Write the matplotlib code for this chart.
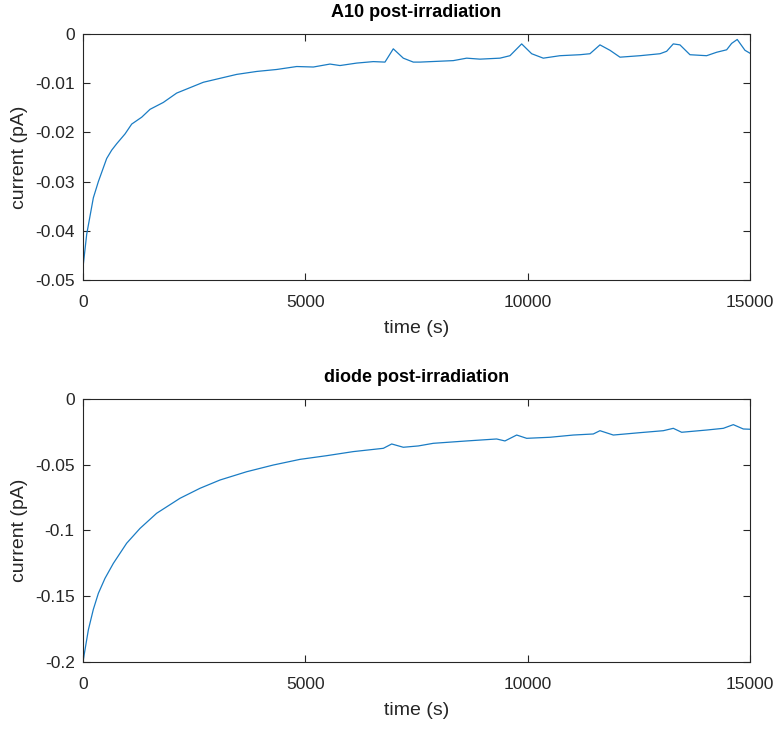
import matplotlib
matplotlib.use("Agg")
import matplotlib.pyplot as plt

# A10 post-irradiation
t_a10 = [0, 83, 232, 345, 532, 645, 757, 945, 1095, 1320, 1507, 1806, 2106, 2406,
         2706, 3081, 3456, 3906, 4356, 4806, 5180, 5554, 5779, 6155, 6529, 6791,
         6978, 7203, 7428, 7578, 8327, 8628, 8927, 9377, 9602, 9865, 10090, 10351,
         10726, 11176, 11401, 11626, 11851, 12076, 12526, 12976, 13126, 13275,
         13425, 13650, 14025, 14250, 14475, 14587, 14713, 14887, 15000]
i_a10 = [-0.0474, -0.0407, -0.0333, -0.0300, -0.0253, -0.0236, -0.0223, -0.0203,
         -0.0183, -0.0169, -0.0153, -0.0139, -0.0120, -0.0109, -0.0098, -0.0090,
         -0.0082, -0.0076, -0.0072, -0.0066, -0.0067, -0.0061, -0.0064, -0.0059,
         -0.0056, -0.0057, -0.0030, -0.0049, -0.0057, -0.0057, -0.0054, -0.0049,
         -0.0051, -0.0049, -0.0044, -0.0020, -0.0040, -0.0049, -0.0044, -0.0042,
         -0.0040, -0.0022, -0.0033, -0.0047, -0.0044, -0.0040, -0.0035, -0.0020,
         -0.0022, -0.0042, -0.0044, -0.0037, -0.0032, -0.0019, -0.0011, -0.0033,
         -0.0039]

# diode post-irradiation
t_diode = [0, 120, 232, 345, 494, 682, 981, 1282, 1656, 2181, 2631, 3081, 3681,
           4280, 4880, 5480, 6079, 6754, 6942, 7203, 7540, 7877, 8628, 9302, 9489,
           9753, 9978, 10502, 11026, 11476, 11626, 11926, 12526, 13051, 13275,
           13463, 14025, 14400, 14625, 14850, 15000]
i_diode = [-0.1997, -0.1756, -0.1600, -0.1478, -0.1364, -0.1250, -0.1097, -0.0984,
           -0.0869, -0.0755, -0.0679, -0.0616, -0.0553, -0.0502, -0.0459, -0.0431,
           -0.0400, -0.0375, -0.0342, -0.0367, -0.0357, -0.0337, -0.0319, -0.0304,
           -0.0319, -0.0274, -0.0299, -0.0291, -0.0274, -0.0266, -0.0241, -0.0274,
           -0.0256, -0.0241, -0.0223, -0.0253, -0.0236, -0.0223, -0.0195, -0.0228,
           -0.0230]

plt.rcParams['font.family'] = ['Liberation Sans', 'DejaVu Sans']
txt = '#262626'
line_col = '#1a7cc4'

fig = plt.figure(figsize=(7.78, 7.34), dpi=100)
ax1 = fig.add_axes([0.1067, 0.6185, 0.8573, 0.3351])
ax2 = fig.add_axes([0.1067, 0.0981, 0.8573, 0.3583])

panels = [
    (ax1, t_a10, i_a10, 'A10 post-irradiation', (-0.05, 0), [-0.05, -0.04, -0.03, -0.02, -0.01, 0],
     ['-0.05', '-0.04', '-0.03', '-0.02', '-0.01', '0']),
    (ax2, t_diode, i_diode, 'diode post-irradiation', (-0.2, 0), [-0.2, -0.15, -0.1, -0.05, 0],
     ['-0.2', '-0.15', '-0.1', '-0.05', '0']),
]

for ax, t, y, title, ylim, yt, ytl in panels:
    ax.plot(t, y, color=line_col, linewidth=0.9)
    ax.set_xlim(0, 15000)
    ax.set_ylim(*ylim)
    ax.set_xticks([0, 5000, 10000, 15000])
    ax.set_xticklabels(['0', '5000', '10000', '15000'])
    ax.set_yticks(yt)
    ax.set_yticklabels(ytl)
    ax.tick_params(direction='in', top=True, right=True, length=5, width=0.8,
                   labelsize=12.5, colors=txt, pad=6)
    ax.tick_params(axis='x', pad=11)
    for s in ax.spines.values():
        s.set_color(txt)
        s.set_linewidth(0.8)
    ax.set_title(title, fontsize=13, fontweight='bold', color='black', pad=12)
    ax.set_xlabel('time (s)', fontsize=14, color=txt, labelpad=7)
    ax.set_ylabel('current (pA)', fontsize=14, color=txt, labelpad=5)

fig.savefig('out.png', dpi=100)
